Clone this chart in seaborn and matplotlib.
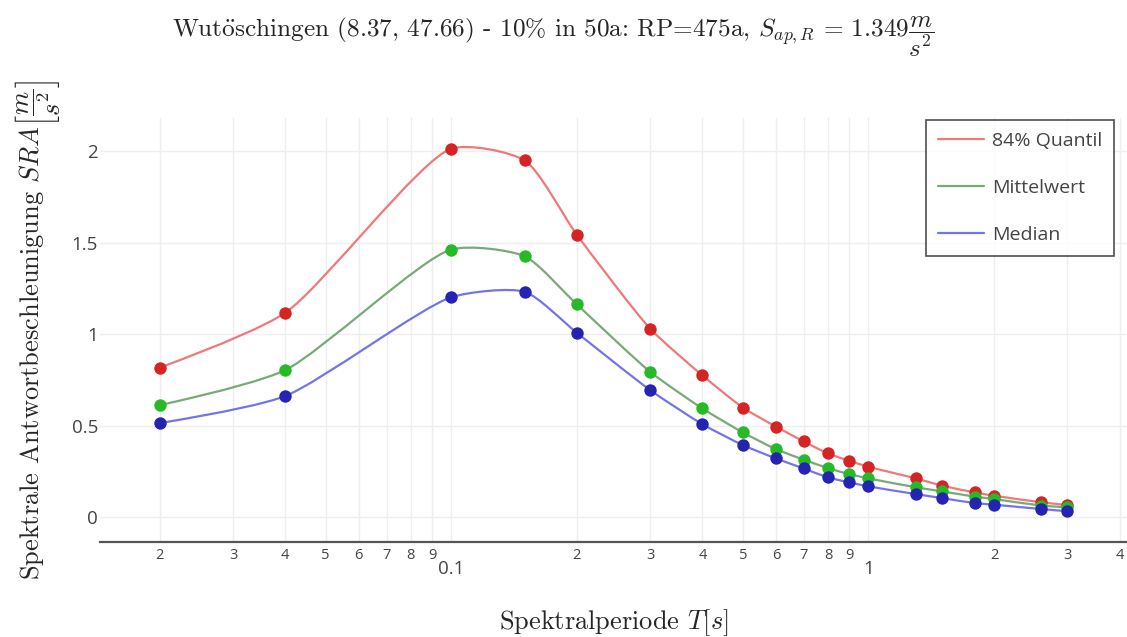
import matplotlib
matplotlib.use("Agg")
import matplotlib.pyplot as plt
import numpy as np
import pandas as pd
import seaborn as sns
from matplotlib.lines import Line2D
from matplotlib.patches import PathPatch
from matplotlib.path import Path

# Spektralperiode T [s]
PERIODS = [0.02, 0.04, 0.1, 0.15, 0.2, 0.3, 0.4, 0.5, 0.6, 0.7,
           0.8, 0.9, 1.0, 1.3, 1.5, 1.8, 2.0, 2.6, 3.0]
QUANTIL_84 = [0.818, 1.118, 2.015, 1.951, 1.545, 1.031, 0.776, 0.600, 0.496, 0.415,
              0.349, 0.309, 0.276, 0.213, 0.173, 0.136, 0.118, 0.082, 0.067]
MITTELWERT = [0.613, 0.805, 1.464, 1.427, 1.164, 0.795, 0.595, 0.464, 0.373, 0.315,
              0.269, 0.236, 0.213, 0.164, 0.142, 0.113, 0.100, 0.064, 0.055]
MEDIAN = [0.515, 0.663, 1.203, 1.233, 1.009, 0.695, 0.509, 0.395, 0.322, 0.267,
          0.218, 0.191, 0.169, 0.127, 0.105, 0.078, 0.069, 0.045, 0.033]

SERIES = ["84% Quantil", "Mittelwert", "Median"]
LINE_COLORS = {"84% Quantil": "#f07878", "Mittelwert": "#78aa78", "Median": "#7474ea"}
MARKER_COLORS = {"84% Quantil": "#d42424", "Mittelwert": "#26bb26", "Median": "#2424b0"}

Y_TICKS = [0, 0.5, 1, 1.5, 2]
Y_TICK_LABELS = ["0", "0.5", "1", "1.5", "2"]
X_MAJOR = [0.1, 1]
X_MAJOR_LABELS = ["0.1", "1"]
X_MINOR = [0.02, 0.03, 0.04, 0.05, 0.06, 0.07, 0.08, 0.09,
           0.2, 0.3, 0.4, 0.5, 0.6, 0.7, 0.8, 0.9, 2, 3, 4]
X_MINOR_LABELS = ["2", "3", "4", "5", "6", "7", "8", "9",
                  "2", "3", "4", "5", "6", "7", "8", "9", "2", "3", "4"]

TITLE = (r"Wut$\ddot{\mathrm{o}}$schingen (8.37, 47.66) - 10% in 50a: RP=475a, "
         r"$S_{ap,R}\, =\, 1.349\dfrac{m}{s^2}$")
X_LABEL = r"Spektralperiode $T[s]$"
Y_LABEL = r"Spektrale Antwortbeschleunigung $SRA\left[\dfrac{m}{s^2}\right]$"

SERIF = ["cmr10", "DejaVu Serif"]
TICK_COLOR = "#444444"
GRID_COLOR = "#eeeeee"
SMOOTHING = 0.65


def spline_path(ax, xs, ys, smoothing=1.0):
    """Smooth curve through the points, like plotly's line shape 'spline'."""
    pts = ax.transData.transform(np.column_stack([xs, ys]))
    n = len(pts)
    tangents = []
    for i in range(1, n - 1):
        d1 = pts[i - 1] - pts[i]
        d2 = pts[i + 1] - pts[i]
        d1a = np.hypot(*d1) ** 0.5
        d2a = np.hypot(*d2) ** 0.5
        num = (d2a ** 2 * d1 - d1a ** 2 * d2) * smoothing
        tangents.append((pts[i] + num / (3 * d2a * (d1a + d2a)),
                         pts[i] - num / (3 * d1a * (d1a + d2a))))
    verts = [pts[0], tangents[0][0], pts[1]]
    codes = [Path.MOVETO, Path.CURVE3, Path.CURVE3]
    for i in range(1, n - 2):
        verts += [tangents[i - 1][1], tangents[i][0], pts[i + 1]]
        codes += [Path.CURVE4] * 3
    verts += [tangents[-1][1], pts[-1]]
    codes += [Path.CURVE3] * 2
    return Path(ax.transData.inverted().transform(np.array(verts)), codes)


def main() -> None:
    sns.set_style("white")
    plt.rcParams["mathtext.fontset"] = "cm"
    plt.rcParams["font.family"] = ["Open Sans", "DejaVu Sans"]
    plt.rcParams["axes.formatter.use_mathtext"] = True

    df = pd.DataFrame({
        "T": PERIODS * 3,
        "SRA": QUANTIL_84 + MITTELWERT + MEDIAN,
        "Serie": np.repeat(SERIES, len(PERIODS)),
    })

    fig = plt.figure(figsize=(11.27, 6.37), dpi=100)
    ax = fig.add_axes([100 / 1127, 1 - 542 / 637, 1 - 100 / 1127, (542 - 118) / 637])

    ax.set_xscale("log")
    ax.set_xlim(10 ** -1.842, 10 ** 0.62)
    ax.set_ylim(-0.135, 2.183)

    for k, name in enumerate(SERIES):
        sub = df[df["Serie"] == name]
        patch = PathPatch(spline_path(ax, sub["T"].values, sub["SRA"].values, SMOOTHING),
                          facecolor="none", edgecolor=LINE_COLORS[name],
                          lw=1.6, zorder=3 + 2 * k)
        ax.add_patch(patch)
        sns.scatterplot(data=sub, x="T", y="SRA", color=MARKER_COLORS[name],
                        s=80, linewidth=0, legend=False, ax=ax, zorder=4 + 2 * k)

    # axes and grid
    for side in ["top", "right", "left"]:
        ax.spines[side].set_visible(False)
    ax.spines["bottom"].set_color("#555555")
    ax.spines["bottom"].set_linewidth(1.6)

    ax.set_yticks(Y_TICKS)
    ax.set_yticklabels(Y_TICK_LABELS)
    ax.set_xticks(X_MAJOR)
    ax.set_xticklabels(X_MAJOR_LABELS)
    ax.set_xticks(X_MINOR, minor=True)
    ax.set_xticklabels(X_MINOR_LABELS, minor=True)

    ax.tick_params(axis="y", length=0, pad=1.5, labelsize=13.5, labelcolor=TICK_COLOR)
    ax.tick_params(axis="x", which="minor", direction="in", length=6, width=0.8,
                   color="#cccccc", pad=4, labelsize=10.5, labelcolor=TICK_COLOR)
    ax.tick_params(axis="x", which="major", direction="in", length=6, width=0.8,
                   color="#cccccc", pad=13, labelsize=13.5, labelcolor=TICK_COLOR)

    ax.grid(True, which="both", axis="x", color=GRID_COLOR, lw=1)
    ax.grid(True, which="major", axis="y", color=GRID_COLOR, lw=1)
    ax.set_axisbelow(True)

    ax.set_xlabel(X_LABEL, family=SERIF, fontsize=19, labelpad=21)
    ax.set_ylabel(Y_LABEL, family=SERIF, fontsize=19, labelpad=7)

    fig.text(553 / 1127, 1 - 37 / 637, TITLE, family=SERIF, fontsize=18.2,
             ha="center", va="center")

    handles = [Line2D([], [], color=LINE_COLORS[s], lw=1.6) for s in SERIES]
    leg = ax.legend(handles, SERIES, loc="upper right",
                    bbox_to_anchor=(1114 / 1127, 1 - 120 / 637),
                    bbox_transform=fig.transFigure, borderaxespad=0,
                    frameon=True, fancybox=False, fontsize=14,
                    handlelength=2.4, handletextpad=0.4, labelspacing=1.5,
                    borderpad=0.6, labelcolor=TICK_COLOR)
    leg.get_frame().set_edgecolor("#222222")
    leg.get_frame().set_linewidth(1.2)

    fig.savefig("out.png", dpi=100)
    plt.close(fig)


if __name__ == "__main__":
    main()
